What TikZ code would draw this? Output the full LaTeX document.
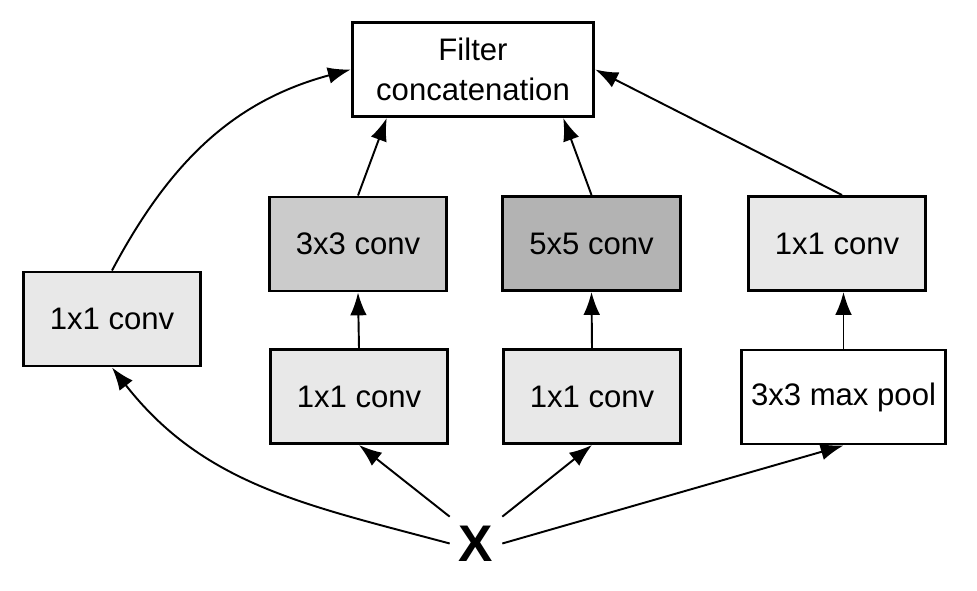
\documentclass[tikz,border=0pt]{standalone}
\usepackage{fontspec}
\setmainfont{Liberation Sans}
\usepackage{tikz}
\usetikzlibrary{arrows.meta, positioning, calc}
\definecolor{lightconv}{HTML}{E8E8E8}
\definecolor{midconv}{HTML}{CBCBCB}
\definecolor{darkconv}{HTML}{B3B3B3}

\begin{document}
\begin{tikzpicture}[item/.style={rectangle,draw,line width=1.7pt,align=center,
    minimum width=3.55cm,minimum height=1.88cm,inner sep=2pt,
    font=\fontsize{17.7}{22.7}\selectfont},
  link/.style={line width=1.1pt,-{Latex[length=13pt,width=9.5pt]}}]
 \useasboundingbox (0,0) rectangle (19.54,11.8);

 \node[item, minimum width=4.83cm] at (9.46,10.41) (concat) {Filter\\concatenation};

 \node[item, fill=midconv] at (7.16,6.92) (c3) {3x3 conv};
 \node[item, fill=darkconv] at (11.83,6.93) (c5) {5x5 conv};
 \node[item, fill=lightconv] at (16.74,6.93) (p1) {1x1 conv};

 \node[item, fill=lightconv] at (2.24,5.42) (a1) {1x1 conv};

 \node[item, fill=lightconv] at (7.18,3.87) (r3) {1x1 conv};
 \node[item, fill=lightconv] at (11.84,3.87) (r5) {1x1 conv};
 \node[item, minimum width=4.09cm] at (16.87,3.86) (pool) {3x3 max pool};

 \node[inner sep=5pt, font=\fontsize{29.3}{30}\selectfont\bfseries] at (9.52,0.93) (x) {X};

 % upper layer into the concatenation
 \draw[link] (a1.north) to [out=62,in=-165] (concat.west);
 \draw[link] (c3.north) -- ([xshift=0.72cm]concat.south west);
 \draw[link] (c5.north) -- ([xshift=-0.64cm]concat.south east);
 \draw[link] ([xshift=0.1cm]p1.north) -- (concat.east);

 % reductions
 \draw[link] (r3.north) -- (c3.south);
 \draw[link] (r5.north) -- (c5.south);
 \draw[link] (pool.north) -- (pool.north |- p1.south);

 % input
 \draw[link] (x.west) to [out=165,in=-52] (a1.south);
 \draw[link] (x.north west) -- (r3.south);
 \draw[link] (x.north east) -- (r5.south);
 \draw[link] (x.east) -- (pool.south);
\end{tikzpicture}
\end{document}
